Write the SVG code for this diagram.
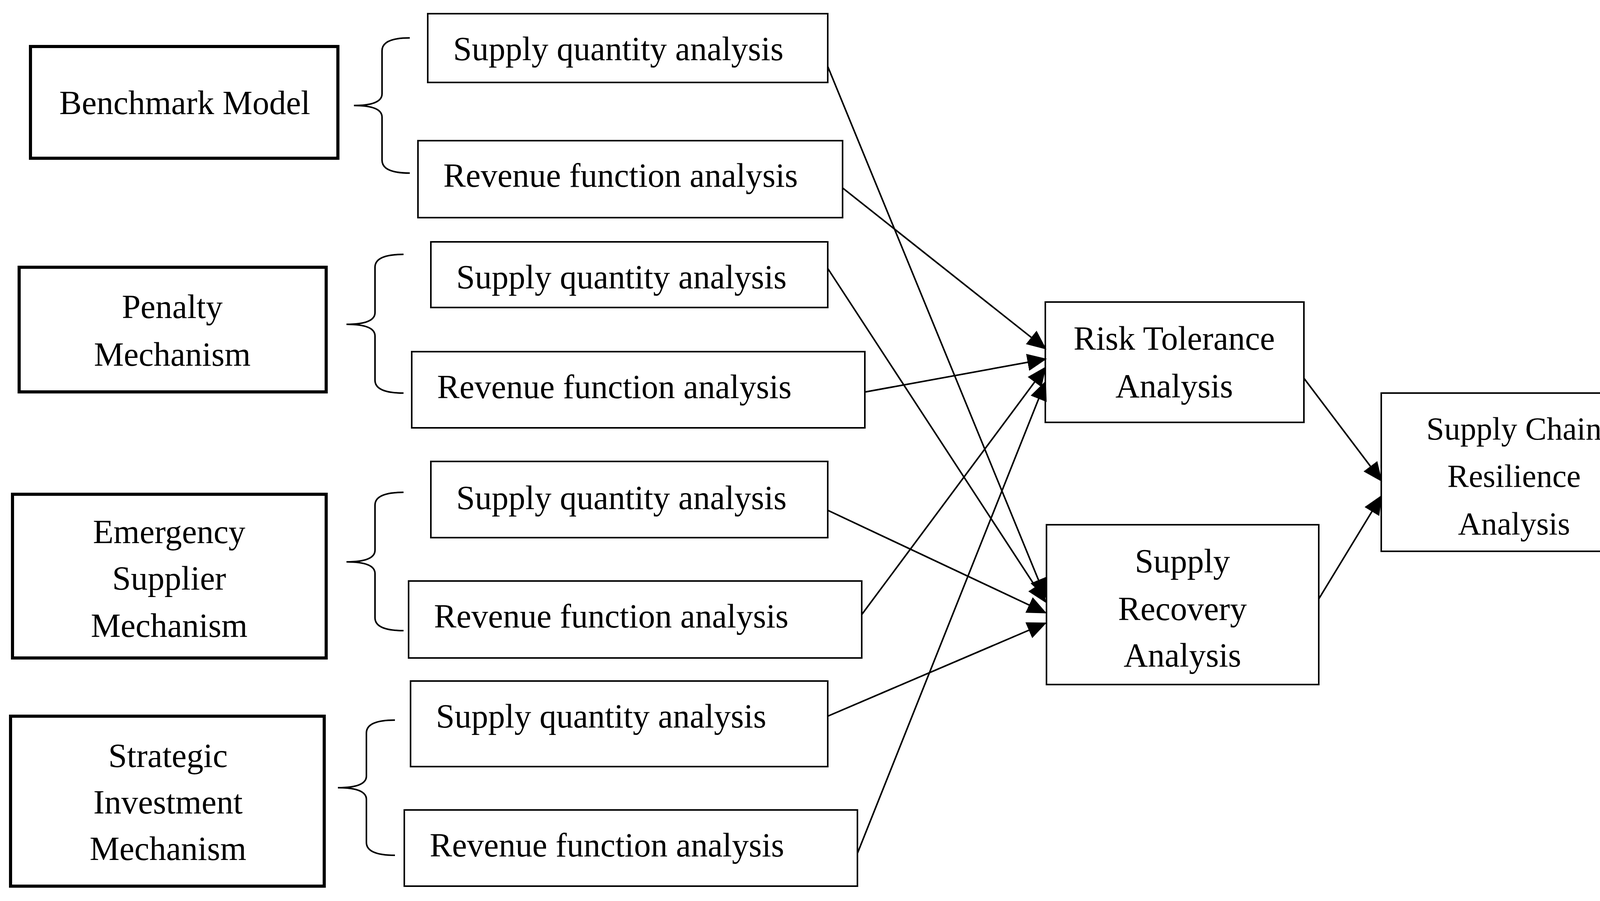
<svg xmlns="http://www.w3.org/2000/svg" width="4239" height="2306" viewBox="0 0 4239 2306">
<style>
.big{fill:#fff;stroke:#000;stroke-width:8}
.box{fill:#fff;stroke:#000;stroke-width:4}
text{font-family:"Liberation Serif",serif;font-size:86px;fill:#000}
.c{text-anchor:middle}
.s{font-size:82px}
.br{fill:none;stroke:#000;stroke-width:4}
.ar{fill:none;stroke:#000;stroke-width:4;marker-end:url(#ah)}
</style>
<defs>
<marker id="ah" markerUnits="userSpaceOnUse" markerWidth="50" markerHeight="44" refX="46" refY="22" orient="auto" viewBox="0 0 50 44">
<path d="M0,0 L50,22 L0,44 Z" fill="#000"/>
</marker>
</defs>
<rect width="4239" height="2306" fill="#fff"/>
<g id="benchmark"><rect class="big" x="78" y="119" width="787" height="286"/><text class="c" x="473" y="292">Benchmark Model</text></g>
<g id="penalty"><rect class="big" x="49" y="684" width="786" height="319"/><text class="c" x="441" y="814">Penalty</text><text class="c" x="441" y="936">Mechanism</text></g>
<g id="emergency"><rect class="big" x="32" y="1265" width="803" height="419"/><text class="c" x="433" y="1390">Emergency</text><text class="c" x="433" y="1509">Supplier</text><text class="c" x="433" y="1630">Mechanism</text></g>
<g id="strategic"><rect class="big" x="27" y="1833" width="803" height="435"/><text class="c" x="430" y="1963">Strategic</text><text class="c" x="430" y="2082">Investment</text><text class="c" x="430" y="2201">Mechanism</text></g>
<g id="braces">
<path class="br" d="M1049,97 Q978,97 978,130 L978,240 Q978,270 906,270 Q978,270 978,300 L978,410 Q978,443 1049,443"/>
<path class="br" d="M1033,651 Q960,651 960,684 L960,800 Q960,830 887,830 Q960,830 960,860 L960,973 Q960,1006 1033,1006"/>
<path class="br" d="M1033,1260 Q960,1260 960,1293 L960,1408 Q960,1438 887,1438 Q960,1438 960,1468 L960,1581 Q960,1614 1033,1614"/>
<path class="br" d="M1011,1843 Q938,1843 938,1876 L938,1986 Q938,2016 865,2016 Q938,2016 938,2046 L938,2156 Q938,2189 1011,2189"/>
</g>
<g id="sq1"><rect class="box" x="1095" y="35" width="1024" height="176"/><text x="1160" y="154">Supply quantity analysis</text></g>
<g id="rf1"><rect class="box" x="1070" y="360" width="1087" height="197"/><text x="1135" y="478">Revenue function analysis</text></g>
<g id="sq2"><rect class="box" x="1103" y="619" width="1016" height="168"/><text x="1168" y="738">Supply quantity analysis</text></g>
<g id="rf2"><rect class="box" x="1054" y="900" width="1160" height="195"/><text x="1119" y="1019">Revenue function analysis</text></g>
<g id="sq3"><rect class="box" x="1103" y="1181" width="1016" height="195"/><text x="1168" y="1303">Supply quantity analysis</text></g>
<g id="rf3"><rect class="box" x="1046" y="1487" width="1160" height="197"/><text x="1111" y="1606">Revenue function analysis</text></g>
<g id="sq4"><rect class="box" x="1051" y="1743" width="1068" height="219"/><text x="1116" y="1862">Supply quantity analysis</text></g>
<g id="rf4"><rect class="box" x="1035" y="2073" width="1160" height="195"/><text x="1100" y="2192">Revenue function analysis</text></g>
<g id="risk"><rect class="box" x="2676" y="773" width="662" height="308"/><text class="c" x="3006" y="895">Risk Tolerance</text><text class="c" x="3006" y="1017">Analysis</text></g>
<g id="recovery"><rect class="box" x="2679" y="1343" width="697" height="409"/><text class="c" x="3027" y="1465">Supply</text><text class="c" x="3027" y="1587">Recovery</text><text class="c" x="3027" y="1706">Analysis</text></g>
<g id="scr"><rect class="box" x="3536" y="1006" width="681" height="405"/><text class="c s" x="3876" y="1125">Supply Chain</text><text class="c s" x="3876" y="1246">Resilience</text><text class="c s" x="3876" y="1368">Analysis</text></g>
<g id="connectors">
<line class="ar" x1="2119" y1="170" x2="2676" y2="1527"/>
<line class="ar" x1="2157" y1="481" x2="2676" y2="892"/>
<line class="ar" x1="2119" y1="687" x2="2676" y2="1540"/>
<line class="ar" x1="2216" y1="1003" x2="2676" y2="919"/>
<line class="ar" x1="2119" y1="1306" x2="2676" y2="1568"/>
<line class="ar" x1="2206" y1="1573" x2="2676" y2="941"/>
<line class="ar" x1="2119" y1="1833" x2="2676" y2="1595"/>
<line class="ar" x1="2195" y1="2184" x2="2676" y2="978"/>
<line class="ar" x1="3338" y1="968" x2="3536" y2="1230"/>
<line class="ar" x1="3376" y1="1533" x2="3536" y2="1270"/>
</g>
</svg>
